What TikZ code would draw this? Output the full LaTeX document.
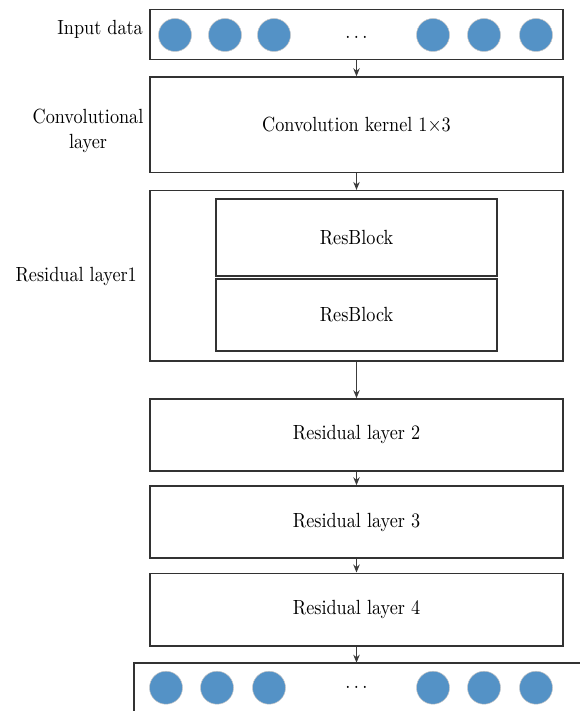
\documentclass[tikz,border=0pt]{standalone}
\usetikzlibrary{arrows.meta}

\definecolor{edgegray}{RGB}{50,50,50}
\definecolor{arrowgray}{RGB}{60,60,60}
\definecolor{dotblue}{RGB}{84,146,198}

% text is set at 10pt and stretched to a tall, slightly narrow face
\newcommand{\tallsc}[1]{\scalebox{1.82}[2.05]{\fontsize{10}{12}\selectfont #1}}

\tikzset{
  layerbox/.style={draw=edgegray, line width=1.6pt, fill=white, minimum width=413pt,
    inner sep=0pt},
  blockbox/.style={draw=edgegray, line width=1.6pt, fill=white, minimum width=281pt,
    inner sep=0pt},
  sidelabel/.style={inner sep=0pt},
  unit/.style={circle, fill=dotblue, draw=gray!45, line width=0.5pt,
    minimum size=33pt, inner sep=0pt},
  ellip/.style={inner sep=0pt},
  flow/.style={draw=arrowgray, line width=1pt, -{Stealth[length=8pt,width=6.5pt]}},
}

\begin{document}
\begin{tikzpicture}[x=1pt, y=1pt]
  \useasboundingbox (0,0) rectangle (579,-711);

  % input row
  \node[layerbox, minimum height=50pt] (input) at (356.5,-34.5) {};
  \foreach \i/\x in {1/175,2/225,3/274,4/433,5/484,6/536}
    \node[unit] (in\i) at (\x,-35) {};
  \node[ellip] (indots) at (356.5,-37.7) {\tallsc{.\hspace{1.9pt}.\hspace{1.9pt}.}};
  \node[sidelabel, anchor=base east] (inlabel) at (143,-35) {\tallsc{Input data}};

  % convolutional layer
  \node[layerbox, minimum height=95.7pt] (conv) at (356.5,-124.85) {\tallsc{Convolution kernel 1$\times$3}};
  \node[sidelabel, anchor=base] (convlabel) at (88,-124)
    {\tallsc{\begin{tabular}[t]{@{}c@{}}Convolutional\\layer\end{tabular}}};

  % residual layer 1 with its two blocks
  \node[layerbox, minimum height=170pt] (res1) at (356.5,-275.7) {};
  \node[blockbox, minimum height=77pt] (rb1) at (356.5,-237.5) {\tallsc{ResBlock}};
  \node[blockbox, minimum height=72pt] (rb2) at (356.5,-314.7) {\tallsc{ResBlock}};
  \node[sidelabel, anchor=base east] (res1label) at (137,-281) {\tallsc{Residual layer1}};

  % further residual layers
  \node[layerbox, minimum height=71.7pt] (res2) at (356.5,-434.85) {\tallsc{Residual layer 2}};
  \node[layerbox, minimum height=72pt] (res3) at (356.5,-522) {\tallsc{Residual layer 3}};
  \node[layerbox, minimum height=72.7pt] (res4) at (356.5,-609.65) {\tallsc{Residual layer 4}};

  % output row, running past the page edge
  \coordinate (outtop) at (356.5,-662.7);
  \draw[edgegray, line width=1.6pt] (134,-716) -- (134,-662.7) -- (590,-662.7);
  \foreach \i/\x in {1/166,2/217,3/269,4/433,5/484,6/536}
    \node[unit] (out\i) at (\x,-687.7) {};
  \node[ellip] (outdots) at (356.5,-687.5) {\tallsc{.\hspace{1.9pt}.\hspace{1.9pt}.}};

  % connectors
  \draw[flow] (input.south) -- (conv.north);
  \draw[flow] (conv.south) -- (res1.north);
  \draw[flow] (res1.south) -- (res2.north);
  \draw[flow] (res2.south) -- (res3.north);
  \draw[flow] (res3.south) -- (res4.north);
  \draw[flow] (res4.south) -- (outtop);
\end{tikzpicture}
\end{document}
